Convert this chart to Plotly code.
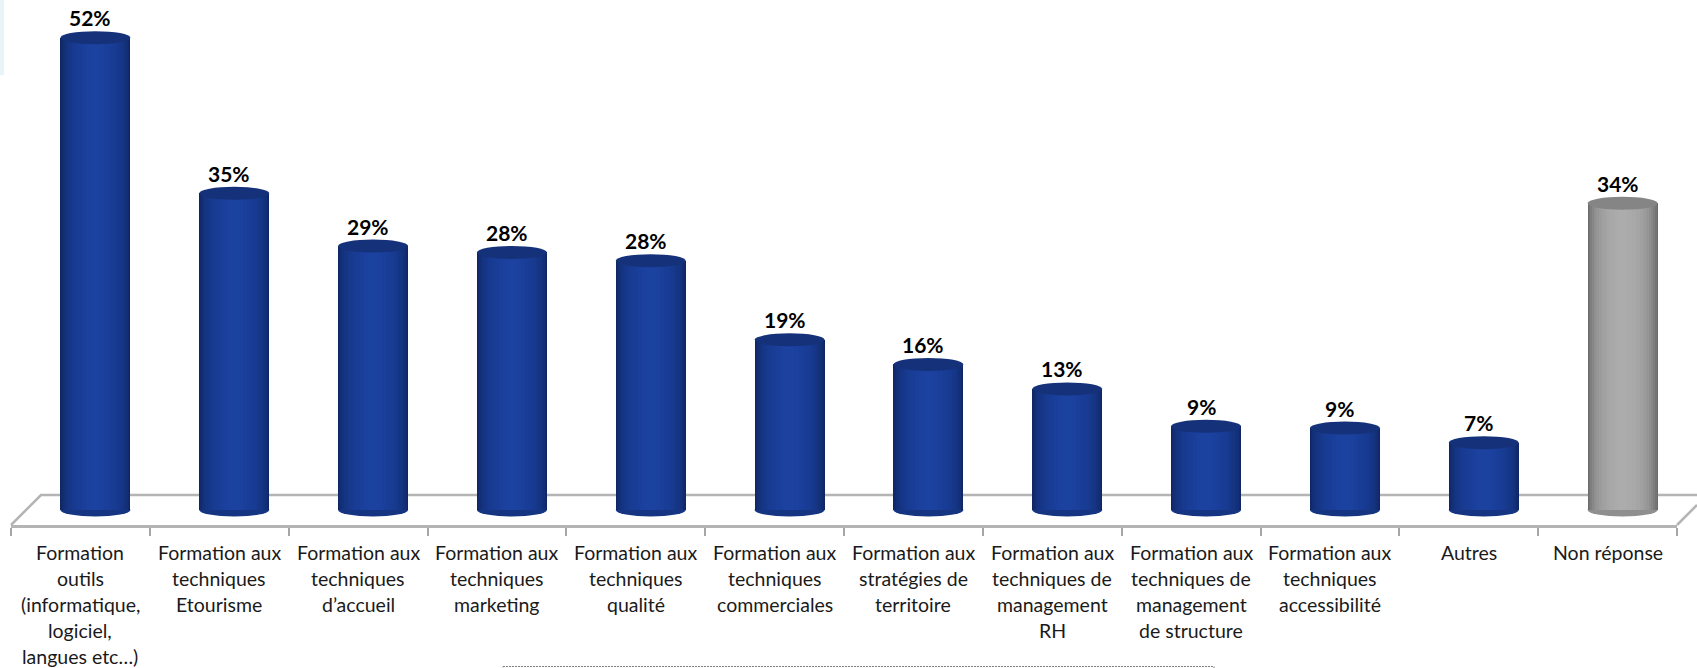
import plotly.graph_objects as go

W, H = 1697, 668
categories = [
    ["Formation", "outils", "(informatique,", "logiciel,", "langues etc…)"],
    ["Formation aux", "techniques", "Etourisme"],
    ["Formation aux", "techniques", "d’accueil"],
    ["Formation aux", "techniques", "marketing"],
    ["Formation aux", "techniques", "qualité"],
    ["Formation aux", "techniques", "commerciales"],
    ["Formation aux", "stratégies de", "territoire"],
    ["Formation aux", "techniques de", "management", "RH"],
    ["Formation aux", "techniques de", "management", "de structure"],
    ["Formation aux", "techniques", "accessibilité"],
    ["Autres"],
    ["Non réponse"],
]
values = [51.9, 34.8, 29.0, 28.3, 27.4, 18.7, 16.0, 13.3, 9.2, 9.0, 7.4, 33.7]
labels = ["52%", "35%", "29%", "28%", "28%", "19%", "16%", "13%", "9%", "9%", "7%", "34%"]

blue_ramp = ["#0e2663", "#102a6b", "#122e74", "#13317c", "#153583", "#163789", "#17398e",
             "#183b93", "#193d97", "#1a3f9a", "#1b409d", "#1c42a0"]
grey_ramp = ["#6c6c6c", "#757575", "#7e7e7e", "#878787", "#8f8f8f", "#969696", "#9c9c9c",
             "#a1a1a1", "#a5a5a5", "#a8a8a8", "#aaaaaa", "#acacac"]
width_ramp = [0.504, 0.49, 0.47, 0.445, 0.415, 0.38, 0.34, 0.295, 0.245, 0.19, 0.13, 0.07]
TOP_BLUE, TOP_GREY = "#14317a", "#858585"
BOTTOM_BLUE, BOTTOM_GREY = "#153583", "#8f8f8f"
FLOOR = "#b4b4b4"

PLOT_BOTTOM = 525
BASE_PX = 510
PX_PER_UNIT = 9.1
RY = 6.5 / PX_PER_UNIT
RX = 0.252
BAR_SHIFT = 15 / ((1677 - 11) / 12)


def px(x):
    return x / W


def py(y):
    return (PLOT_BOTTOM - y) / PLOT_BOTTOM


n = len(values)
positions = list(range(n))
fig = go.Figure()
for width, b, g in zip(width_ramp, blue_ramp, grey_ramp):
    fig.add_trace(go.Bar(
        x=positions, y=values, width=width, xaxis="x2", yaxis="y",
        marker=dict(color=[b] * (n - 1) + [g], line=dict(width=0)),
        hoverinfo="skip", showlegend=False,
    ))

shapes = [
    dict(type="rect", xref="paper", yref="paper", layer="below",
         x0=px(0), x1=px(4), y0=py(0), y1=py(75),
         fillcolor="#e9f4f9", line=dict(width=0)),
    dict(type="path", xref="paper", yref="paper", layer="below",
         path=f"M {px(11)} {py(525)} L {px(41)} {py(495)} L {px(1697)} {py(495)}",
         line=dict(color=FLOOR, width=2.5)),
    dict(type="line", xref="paper", yref="paper", layer="below",
         x0=px(1677), y0=py(525), x1=px(1697), y1=py(505),
         line=dict(color=FLOOR, width=2.5)),
    dict(type="rect", xref="paper", yref="paper", layer="below",
         x0=px(503), x1=px(1214), y0=py(666.5), y1=py(700),
         line=dict(color="#808080", width=1, dash="2px,1px")),
]
for i, v in enumerate(values):
    top = TOP_GREY if i == n - 1 else TOP_BLUE
    bottom = BOTTOM_GREY if i == n - 1 else BOTTOM_BLUE
    shapes.append(dict(type="circle", xref="x2", yref="y", layer="below",
                       x0=i - RX, x1=i + RX, y0=-RY, y1=RY,
                       fillcolor=bottom, line=dict(width=0)))
    shapes.append(dict(type="circle", xref="x2", yref="y", layer="above",
                       x0=i - RX, x1=i + RX, y0=v - RY, y1=v + RY,
                       fillcolor=top, line=dict(width=0)))

annotations = []
for i, (v, lab) in enumerate(zip(values, labels)):
    annotations.append(dict(x=i, y=v, xref="x2", yref="y", text=f"<b>{lab}</b>",
                            showarrow=False, xshift=-5, yshift=20, yanchor="middle",
                            font=dict(family="Lato", size=21, color="black")))
for i, lines in enumerate(categories):
    for j, line in enumerate(lines):
        annotations.append(dict(x=i, y=py(552 + 26 * j), xref="x", yref="paper", text=line,
                                showarrow=False, yanchor="middle",
                                font=dict(family="Lato", size=19.5, color="#1a1a1a")))

fig.update_layout(
    width=W, height=H, barmode="overlay", bargap=0,
    margin=dict(l=0, r=0, t=0, b=H - PLOT_BOTTOM, pad=0),
    paper_bgcolor="white", plot_bgcolor="white",
    showlegend=False,
    xaxis=dict(domain=[px(11), px(1677)], range=[-0.5, n - 0.5], tickmode="array",
               tickvals=[i - 0.5 for i in range(n + 1)], showticklabels=False,
               ticks="outside", ticklen=8, tickwidth=1.5, tickcolor="#a6a6a6",
               showline=True, linecolor=FLOOR, linewidth=2.5, showgrid=False,
               zeroline=False, anchor="y"),
    xaxis2=dict(range=[-0.5 - BAR_SHIFT, n - 0.5 - BAR_SHIFT], overlaying="x",
                visible=False, anchor="y"),
    yaxis=dict(domain=[0, 1], range=[-(PLOT_BOTTOM - BASE_PX) / PX_PER_UNIT, BASE_PX / PX_PER_UNIT],
               visible=False),
    shapes=shapes, annotations=annotations,
)
fig.write_html("out.html", post_script="document.body.style.margin='0';",
               config=dict(displayModeBar=False))
